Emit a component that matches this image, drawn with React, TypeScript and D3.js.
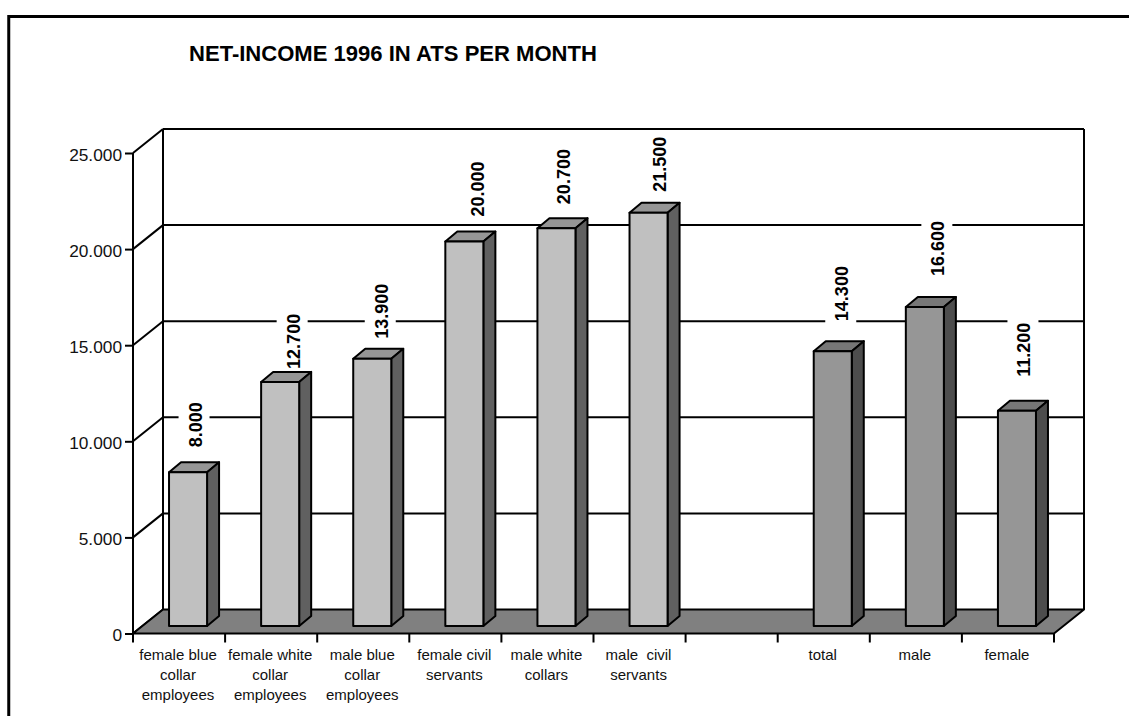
import React, { useEffect, useRef } from 'react';
import * as d3 from 'd3';

const categories = [
  ['female blue', 'collar', 'employees'],
  ['female white', 'collar', 'employees'],
  ['male blue', 'collar', 'employees'],
  ['female civil', 'servants'],
  ['male white', 'collars'],
  ['male  civil', 'servants'],
  [],
  ['total'],
  ['male'],
  ['female'],
];
const values = [8000, 12700, 13900, 20000, 20700, 21500, null, 14300, 16600, 11200];
const yTicks = [0, 5000, 10000, 15000, 20000, 25000];
const title = 'NET-INCOME 1996 IN ATS PER MONTH';

// value labels sit at slightly different spots over each bar in the original
const labelLift = [25, 13, 20, 25, 24, 21, 0, 30, 31, 34];
const labelShift = [1, 7, 3, 7, 1, 5, 0, 3, 7, 1];

const width = 1129;
const height = 716;
const left = 133;
const right = 1054;
const top = 153;
const bottom = 633.5;
const wallDx = 30;
const wallDy = 24;
const barDx = 12;
const barDy = 10;
const font = '"Liberation Sans", Arial, sans-serif';

const App: React.FC = () => {
  const svgRef = useRef<SVGSVGElement>(null);

  useEffect(() => {
    if (!svgRef.current) return;
    const svg = d3.select(svgRef.current);
    svg.selectAll('*').remove();

    const y = d3.scaleLinear().domain([0, 25000]).range([bottom, top]);
    const x = d3.scaleBand<number>()
      .domain(d3.range(categories.length))
      .range([left, right])
      .paddingInner(0.587)
      .paddingOuter(0.2935);
    const step = x.step();
    const fmt = (v: number) => d3.format(',')(v).replace(/,/g, '.');
    const line = (x1: number, y1: number, x2: number, y2: number, w = 2) =>
      svg.append('line')
        .attr('x1', x1).attr('y1', y1).attr('x2', x2).attr('y2', y2)
        .attr('stroke', '#000').attr('stroke-width', w);

    // outer frame, runs off the page on the right and bottom
    svg.append('path')
      .attr('d', `M8.75,${height} V16.5 H${width}`)
      .attr('fill', 'none').attr('stroke', '#000').attr('stroke-width', 3);

    svg.append('text')
      .attr('x', 189).attr('y', 61)
      .attr('font-family', font).attr('font-weight', 'bold').attr('font-size', 22.05)
      .attr('fill', '#000')
      .text(title);

    // walls
    const backL = left + wallDx;
    const backR = right + wallDx;
    line(left, y(25000), left, y(0));
    line(backL, y(25000) - wallDy, backL, y(0) - wallDy);
    line(backR, y(25000) - wallDy, backR, y(0) - wallDy);
    yTicks.forEach(t => {
      line(left, y(t), backL, y(t) - wallDy);
      if (t > 0) line(backL, y(t) - wallDy, backR, y(t) - wallDy);
    });

    const labelBottom = (v: number, i: number) => y(v) - 7.5 - labelLift[i];
    const labelX = (i: number) => (x(i) || 0) + 9 + x.bandwidth() / 2 + barDx / 2 + labelShift[i];

    // value labels knock a white gap out of the gridlines behind them
    values.forEach((v, i) => {
      if (v === null) return;
      svg.append('rect')
        .attr('x', labelX(i) - 16.5)
        .attr('y', labelBottom(v, i) - 58)
        .attr('width', 31)
        .attr('height', 60)
        .attr('fill', '#fff');
    });

    // floor
    svg.append('polygon')
      .attr('points', [
        [left, y(0)], [backL, y(0) - wallDy], [backR, y(0) - wallDy], [right, y(0)],
      ].join(' '))
      .attr('fill', '#808080')
      .attr('stroke', '#000')
      .attr('stroke-width', 2)
      .attr('stroke-linejoin', 'round');

    // bars
    const group = (i: number) => i > 6;
    const barColors = [
      { front: '#c0c0c0', top: '#969696', side: '#606060' },
      { front: '#969696', top: '#777777', side: '#4d4d4d' },
    ];
    values.forEach((v, i) => {
      if (v === null) return;
      const c = barColors[group(i) ? 1 : 0];
      const x0 = (x(i) || 0) + 9;
      const x1 = x0 + x.bandwidth();
      const y0 = y(v) - 7.5;
      const y1 = y(0) - 7.5;
      const g = svg.append('g')
        .attr('stroke', '#000').attr('stroke-width', 2).attr('stroke-linejoin', 'round');
      g.append('polygon')
        .attr('points', [[x0, y0], [x0 + barDx, y0 - barDy], [x1 + barDx, y0 - barDy], [x1, y0]].join(' '))
        .attr('fill', c.top);
      g.append('polygon')
        .attr('points', [[x1, y0], [x1 + barDx, y0 - barDy], [x1 + barDx, y1 - barDy], [x1, y1]].join(' '))
        .attr('fill', c.side);
      g.append('rect')
        .attr('x', x0).attr('y', y0).attr('width', x.bandwidth()).attr('height', y1 - y0)
        .attr('fill', c.front);
    });

    values.forEach((v, i) => {
      if (v === null) return;
      svg.append('text')
        .attr('transform', `translate(${labelX(i) + 6.5},${labelBottom(v, i)}) rotate(-90)`)
        .attr('font-family', font).attr('font-weight', 'bold').attr('font-size', 18)
        .attr('fill', '#000')
        .text(fmt(v));
    });

    // y axis
    const yAxis = svg.append('g')
      .attr('transform', `translate(${left},0)`)
      .call(d3.axisLeft(y).tickValues(yTicks).tickSize(8).tickPadding(3).tickFormat(d => fmt(+d)));
    yAxis.select('.domain').remove();
    yAxis.selectAll('line').attr('stroke', '#000').attr('stroke-width', 2);
    yAxis.selectAll('text')
      .attr('font-family', font).attr('font-size', 17.3).attr('fill', '#111')
      .attr('dy', '0.42em');

    // x axis: ticks on the band edges
    d3.range(categories.length + 1).forEach(i => {
      const tx = left + i * step;
      line(tx, y(0), tx, y(0) + 9);
    });
    categories.forEach((lines, i) => {
      const t = svg.append('text')
        .attr('text-anchor', 'middle')
        .attr('font-family', font).attr('font-size', 15)
        .style('white-space', 'pre')
        .attr('fill', '#111');
      lines.forEach((s, k) => {
        t.append('tspan')
          .attr('x', left + (i + 0.5) * step - 1)
          .attr('y', 660 + k * 20)
          .text(s);
      });
    });
  }, []);

  return (
    <svg
      ref={svgRef}
      width={width}
      height={height}
      style={{ position: 'absolute', left: 0, top: 0, background: '#fff' }}
    />
  );
};

export default App;
